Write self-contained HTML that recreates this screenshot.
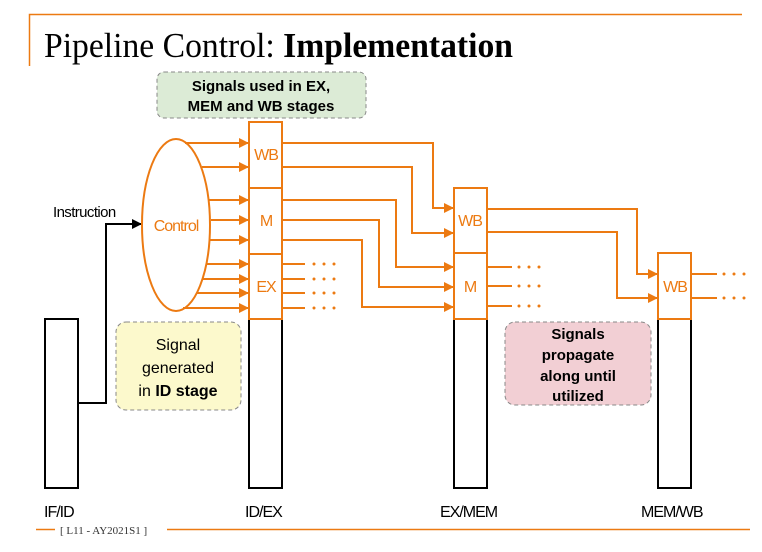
<!DOCTYPE html>
<html><head><meta charset="utf-8"><style>
html,body{margin:0;padding:0;background:#fff;}
svg{display:block;}
</style></head><body>
<svg width="762" height="552" viewBox="0 0 762 552" xmlns="http://www.w3.org/2000/svg">
<defs>
<marker id="oa" markerWidth="10" markerHeight="10" refX="9" refY="5" orient="auto" markerUnits="userSpaceOnUse"><path d="M0,0 L10,5 L0,10 z" fill="#EC7A12"/></marker>
<marker id="ba" markerWidth="10" markerHeight="10" refX="9" refY="5" orient="auto" markerUnits="userSpaceOnUse"><path d="M0,0 L10,5 L0,10 z" fill="#000"/></marker>
</defs>
<!-- frame lines -->
<path d="M29.5,66 V14.5 H742" stroke="#EC7A12" stroke-width="1.5" fill="none"/>
<line x1="36" y1="529.5" x2="750" y2="529.5" stroke="#EC7A12" stroke-width="1.5"/>
<rect x="55" y="523" width="112" height="14" fill="#fff"/>
<text x="60" y="534" font-family="Liberation Serif, serif" font-size="11" fill="#333">[ L11 - AY2021S1 ]</text>
<!-- title -->
<text x="44" y="57" font-family="Liberation Serif, serif" font-size="35" fill="#000" textLength="469" lengthAdjust="spacingAndGlyphs">Pipeline Control: <tspan font-weight="bold">Implementation</tspan></text>
<!-- callouts -->
<rect x="157" y="72" width="209" height="46" rx="7" fill="#DCEBD6" stroke="#888" stroke-dasharray="4,3"/>
<text font-family="Liberation Sans, sans-serif" font-size="15" font-weight="bold" text-anchor="middle" fill="#000"><tspan x="261" y="91">Signals used in EX,</tspan><tspan x="261" y="111">MEM and WB stages</tspan></text>
<rect x="116" y="322" width="125" height="88" rx="10" fill="#FCF9CC" stroke="#888" stroke-dasharray="4,3"/>
<text font-family="Liberation Sans, sans-serif" font-size="16" text-anchor="middle" fill="#000"><tspan x="178" y="350">Signal</tspan><tspan x="178" y="373">generated</tspan><tspan x="178" y="396">in <tspan font-weight="bold">ID stage</tspan></tspan></text>
<rect x="505" y="322" width="146" height="83" rx="10" fill="#F2CFD4" stroke="#888" stroke-dasharray="4,3"/>
<text font-family="Liberation Sans, sans-serif" font-size="15" font-weight="bold" text-anchor="middle" fill="#000"><tspan x="578" y="339">Signals</tspan><tspan x="578" y="360">propagate</tspan><tspan x="578" y="381">along until</tspan><tspan x="578" y="401">utilized</tspan></text>
<!-- black pipeline registers -->
<g stroke="#000" stroke-width="2" fill="#fff">
<rect x="45" y="319" width="33" height="169"/>
<rect x="249" y="319" width="33" height="169"/>
<rect x="454" y="319" width="33" height="169"/>
<rect x="658" y="319" width="33" height="169"/>
</g>
<!-- instruction arrow -->
<path d="M78,403 H106 V224 H141" stroke="#000" stroke-width="2" fill="none" marker-end="url(#ba)"/>
<text x="53" y="217" font-family="Liberation Sans, sans-serif" font-size="15" fill="#000" letter-spacing="-0.6">Instruction</text>
<!-- orange parts -->
<g stroke="#EC7A12" stroke-width="2" fill="none">
<ellipse cx="176" cy="225" rx="34" ry="86"/>
<rect x="249" y="122" width="33" height="197"/>
<line x1="249" y1="188" x2="282" y2="188"/>
<line x1="249" y1="254" x2="282" y2="254"/>
<rect x="454" y="188" width="33" height="131"/>
<line x1="454" y1="253" x2="487" y2="253"/>
<rect x="658" y="253" width="33" height="66"/>
</g>
<g stroke="#EC7A12" stroke-width="2" fill="none" marker-end="url(#oa)">
<line x1="185" y1="143" x2="248" y2="143"/>
<line x1="202" y1="167" x2="248" y2="167"/>
<line x1="209" y1="200" x2="248" y2="200"/>
<line x1="211" y1="220" x2="248" y2="220"/>
<line x1="209" y1="240" x2="248" y2="240"/>
<line x1="207" y1="264" x2="248" y2="264"/>
<line x1="203" y1="279" x2="248" y2="279"/>
<line x1="197" y1="293" x2="248" y2="293"/>
<line x1="183" y1="308" x2="248" y2="308"/>
<path d="M282,143 H433 V208 H453"/>
<path d="M282,167 H412 V233 H453"/>
<path d="M282,200 H396 V267 H453"/>
<path d="M282,220 H379 V287 H453"/>
<path d="M282,240 H362 V307 H453"/>
<path d="M487,209 H637 V274 H657"/>
<path d="M487,232 H617 V298 H657"/>
</g>
<g stroke="#EC7A12" stroke-width="2">
<line x1="282" y1="264" x2="305" y2="264"/>
<line x1="282" y1="279" x2="305" y2="279"/>
<line x1="282" y1="293" x2="305" y2="293"/>
<line x1="282" y1="308" x2="305" y2="308"/>
<line x1="487" y1="267" x2="512" y2="267"/>
<line x1="487" y1="286" x2="512" y2="286"/>
<line x1="487" y1="306" x2="512" y2="306"/>
<line x1="691" y1="274" x2="717" y2="274"/>
<line x1="691" y1="298" x2="717" y2="298"/>
</g>
<g fill="#EC7A12">
<circle cx="314" cy="264" r="1.5"/><circle cx="324" cy="264" r="1.5"/><circle cx="334" cy="264" r="1.5"/>
<circle cx="314" cy="279" r="1.5"/><circle cx="324" cy="279" r="1.5"/><circle cx="334" cy="279" r="1.5"/>
<circle cx="314" cy="293" r="1.5"/><circle cx="324" cy="293" r="1.5"/><circle cx="334" cy="293" r="1.5"/>
<circle cx="314" cy="308" r="1.5"/><circle cx="324" cy="308" r="1.5"/><circle cx="334" cy="308" r="1.5"/>
<circle cx="519" cy="267" r="1.5"/><circle cx="529" cy="267" r="1.5"/><circle cx="539" cy="267" r="1.5"/>
<circle cx="519" cy="286" r="1.5"/><circle cx="529" cy="286" r="1.5"/><circle cx="539" cy="286" r="1.5"/>
<circle cx="519" cy="306" r="1.5"/><circle cx="529" cy="306" r="1.5"/><circle cx="539" cy="306" r="1.5"/>
<circle cx="724" cy="274" r="1.5"/><circle cx="734" cy="274" r="1.5"/><circle cx="744" cy="274" r="1.5"/>
<circle cx="724" cy="298" r="1.5"/><circle cx="734" cy="298" r="1.5"/><circle cx="744" cy="298" r="1.5"/>
</g>
<g font-family="Liberation Sans, sans-serif" font-size="16" fill="#EC7A12" text-anchor="middle" letter-spacing="-1">
<text x="176" y="231">Control</text>
<text x="266" y="160">WB</text>
<text x="266" y="226">M</text>
<text x="266" y="292">EX</text>
<text x="470" y="226">WB</text>
<text x="470" y="292">M</text>
<text x="675" y="292">WB</text>
</g>
<g font-family="Liberation Sans, sans-serif" font-size="16" fill="#000" letter-spacing="-1">
<text x="44" y="517">IF/ID</text>
<text x="245" y="517">ID/EX</text>
<text x="440" y="517">EX/MEM</text>
<text x="641" y="517">MEM/WB</text>
</g>
</svg>
</body></html>
